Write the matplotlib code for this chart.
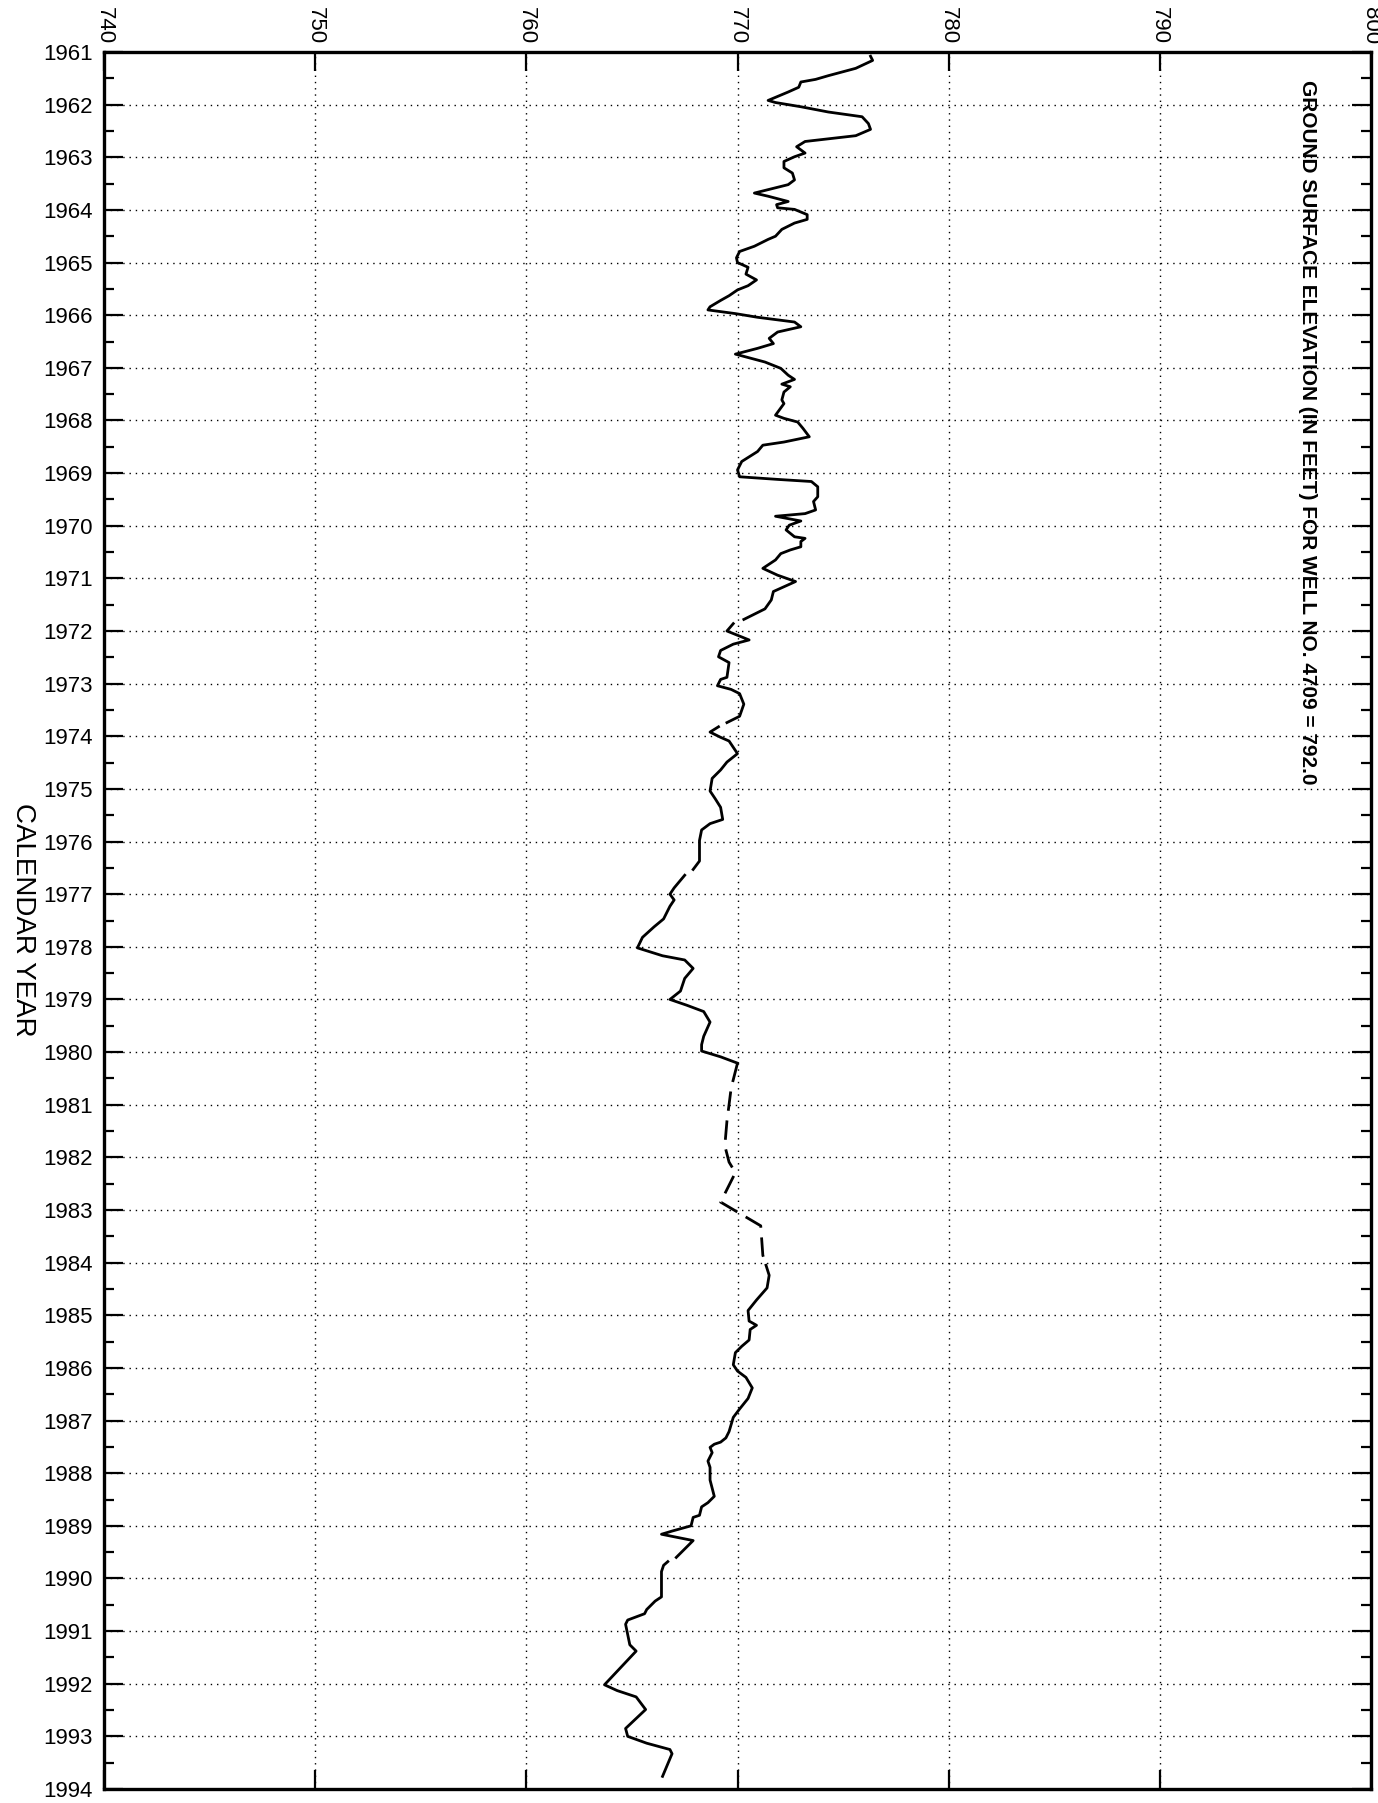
import numpy as np
import matplotlib
matplotlib.use('Agg')
import matplotlib.pyplot as plt
from matplotlib.ticker import MultipleLocator

plt.rcParams['font.family'] = ['Liberation Sans', 'DejaVu Sans']

nan = np.nan

# measured water level elevations (ft); nan = break in record
years = [
    1961.08, 1961.16, 1961.31, 1961.45, 1961.52, 1961.57, 1961.67, 1961.76, 1961.92, 1961.96,
    1962.04, 1962.14, 1962.23, 1962.36, 1962.47, 1962.59, 1962.65, 1962.70, 1962.80, 1962.92,
    1962.99, 1963.08, 1963.20, 1963.30, 1963.43, 1963.52, 1963.58, 1963.68, 1963.74, 1963.84,
    1963.90, 1963.96, 1963.99, 1964.09, 1964.18, 1964.25, 1964.37, 1964.50, 1964.56, 1964.69,
    1964.79, 1964.91, 1965.00, 1965.09, 1965.22, 1965.33, 1965.44, 1965.52, 1965.63, 1965.72,
    1965.84, 1965.90, 1965.97, 1966.04, 1966.09, 1966.13, 1966.22, 1966.32, 1966.44, 1966.54,
    1966.63, 1966.74, 1966.89, 1967.01, 1967.14, 1967.22, 1967.31, 1967.36, 1967.46, 1967.61,
    1967.68, 1967.90, 1967.96, 1968.03, 1968.15, 1968.31, 1968.41, 1968.47, 1968.59, 1968.78,
    1968.94, 1969.07, 1969.12, 1969.16, 1969.26, 1969.45, 1969.54, 1969.70, 1969.77, 1969.82,
    1969.91, 1969.99, 1970.08, 1970.21, 1970.24, 1970.30, 1970.40, 1970.46, 1970.53, 1970.65,
    1970.81, 1970.94, 1971.06, 1971.16, 1971.25, 1971.41, 1971.58, 1971.78, 1971.82, 1971.86,
    1972.00, 1972.17, 1972.25, 1972.37, 1972.49, 1972.60, 1972.88, 1972.92, 1973.04, 1973.11,
    1973.19, 1973.39, 1973.62, 1973.74, 1973.78, 1973.82, 1973.92, 1974.02, 1974.09, 1974.33,
    1974.49, 1974.64, 1974.80, 1975.04, 1975.19, 1975.35, 1975.58, 1975.66, 1975.78, 1975.98,
    1976.37, 1976.53, 1976.58, 1976.64, 1976.88, 1977.00, 1977.11, 1977.23, 1977.47, 1977.62,
    1977.82, 1978.02, 1978.17, 1978.25, 1978.41, 1978.60, 1978.84, 1979.00, 1979.11, 1979.23,
    1979.43, 1979.70, 1979.86, 1979.98, 1980.09, 1980.21, 1982.00, 1984.05, 1984.24, 1984.48,
    1984.71, 1984.91, 1985.11, 1985.19, 1985.27, 1985.47, 1985.59, 1985.71, 1985.94, 1986.06,
    1986.18, 1986.38, 1986.58, 1986.78, 1986.94, 1987.21, 1987.33, 1987.41, 1987.45, 1987.51,
    1987.61, 1987.77, 1987.89, 1988.13, 1988.44, 1988.56, 1988.64, 1988.80, 1988.84, 1989.00,
    1989.10, 1989.16, 1989.28, 1989.60, 1989.64, 1989.68, 1989.75, 1989.87, 1990.35, 1990.43,
    1990.59, 1990.67, 1990.79, 1990.87, 1991.06, 1991.26, 1991.38, 1992.02, 1992.13, 1992.25,
    1992.49, 1992.85, 1993.00, 1993.13, 1993.25, 1993.33, 1993.52, 1993.76,
]
elev = [
    776.3, 776.4, 775.6, 774.3, 773.7, 773.0, 772.9, 772.4, 771.45, 771.8,
    773.0, 774.3, 775.9, 776.2, 776.3, 775.6, 774.3, 773.2, 772.8, 773.2,
    772.7, 772.2, 772.2, 772.6, 772.7, 772.4, 771.8, 770.8, 771.45, 772.4,
    771.85, 771.9, 772.7, 773.3, 773.3, 772.7, 772.1, 771.8, 771.45, 770.8,
    770.1, 769.95, 770.0, 770.5, 770.4, 770.9, 770.5, 770.0, 769.6, 769.2,
    768.7, 768.6, 769.9, 770.95, 771.9, 772.7, 773.0, 771.9, 771.5, 771.7,
    770.95, 769.9, 771.3, 772.05, 772.4, 772.7, 772.1, 772.5, 772.2, 772.1,
    772.2, 771.8, 772.2, 772.85, 773.1, 773.4, 772.2, 771.2, 770.95, 770.2,
    770.0, 770.1, 771.9, 773.5, 773.8, 773.8, 773.6, 773.7, 773.2, 771.8,
    773.0, 772.45, 772.3, 772.7, 773.2, 773.0, 773.0, 772.5, 772.05, 771.8,
    771.2, 771.9, 772.75, 772.2, 771.7, 771.6, 771.3, 770.3, nan, 769.8,
    769.5, 770.55, 769.8, 769.2, 769.1, 769.6, 769.5, 769.2, 769.05, 769.7,
    770.1, 770.3, 770.1, 769.5, nan, 769.1, 768.7, 769.2, 769.6, 770.0,
    769.5, 769.2, 768.8, 768.7, 768.95, 769.2, 769.3, 768.7, 768.3, 768.2,
    768.2, 767.9, nan, 767.5, 767.0, 766.8, 767.0, 766.8, 766.5, 766.05,
    765.5, 765.26, 766.45, 767.5, 767.9, 767.5, 767.3, 766.8, 767.6, 768.4,
    768.7, 768.4, 768.3, 768.3, 769.2, 770.0, nan, 771.35, 771.5, 771.4,
    770.9, 770.5, 770.55, 770.9, 770.6, 770.55, 770.2, 769.9, 769.8, 770.0,
    770.4, 770.7, 770.5, 770.1, 769.8, 769.6, 769.45, 769.2, 768.9, 768.7,
    768.8, 768.6, 768.7, 768.7, 768.9, 768.6, 768.3, 768.2, 767.9, 767.8,
    766.9, 766.4, 767.9, 767.1, nan, 766.7, 766.5, 766.4, 766.4, 766.1,
    765.7, 765.6, 764.8, 764.7, 764.8, 764.9, 765.2, 763.7, 764.3, 765.2,
    765.65, 764.7, 764.8, 765.7, 766.8, 766.9, 766.7, 766.45,
]

# sparse readings 1980-1984, drawn dashed
years_est = [1980.21, 1980.68, 1981.00, 1981.31, 1981.78, 1982.09, 1982.29, 1982.85, 1983.30, 1983.86, 1984.05]
elev_est = [770.0, 769.7, 769.6, 769.5, 769.4, 769.6, 769.9, 769.2, 771.1, 771.2, 771.35]

fig = plt.figure(figsize=(13.78, 18.03), dpi=100)
ax = fig.add_axes([104/1378, 1 - 1789/1803, (1371 - 104)/1378, (1789 - 52)/1803])

ax.plot(elev, years, color='black', lw=2.0, solid_joinstyle='round')
ax.plot(elev_est, years_est, color='black', lw=2.0, linestyle=(0, (7, 3.5)))

ax.set_xlim(740, 800)
ax.set_ylim(1994, 1961)
ax.xaxis.set_major_locator(MultipleLocator(10))
ax.yaxis.set_major_locator(MultipleLocator(1))
ax.yaxis.set_minor_locator(MultipleLocator(0.5))

ax.grid(True, which='major', color='black', lw=1.0, linestyle=(0, (1, 3.5)))
ax.set_axisbelow(True)

ax.tick_params(axis='x', which='major', direction='in', length=14, width=1.6,
               top=True, bottom=True, labeltop=True, labelbottom=False,
               labelsize=16, labelrotation=270, pad=6)
ax.tick_params(axis='y', which='major', direction='in', length=14, width=1.6,
               left=True, right=True, labelsize=16, pad=8)
ax.tick_params(axis='y', which='minor', direction='in', length=7, width=1.6,
               left=True, right=True)
for s in ax.spines.values():
    s.set_linewidth(2.4)

fig.text(23/1378, 1 - 920/1803, 'CALENDAR YEAR', rotation=270, fontsize=20,
         ha='center', va='center')
fig.text(1308/1378, 1 - 80/1803,
         'GROUND SURFACE ELEVATION (IN FEET) FOR WELL NO. 4709 = 792.0',
         rotation=270, fontsize=15, fontweight='bold', ha='center', va='top')

fig.savefig('out.png', dpi=100)
